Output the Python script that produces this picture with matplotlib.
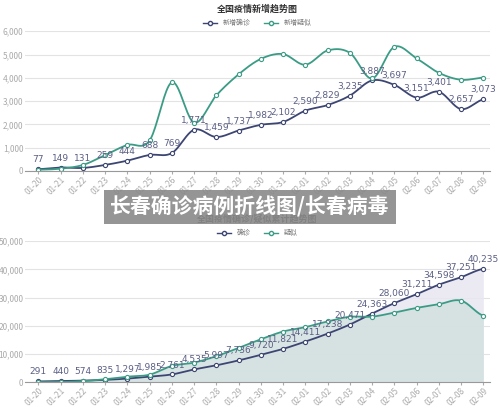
import matplotlib
matplotlib.use("Agg")
import matplotlib.pyplot as plt
import numpy as np

plt.rcParams['font.family'] = ['Noto Sans CJK SC', 'DejaVu Sans']

dates = ["01-20","01-21","01-22","01-23","01-24","01-25","01-26","01-27","01-28","01-29","01-30",
         "01-31","02-01","02-02","02-03","02-04","02-05","02-06","02-07","02-08","02-09"]
new_confirmed = [77,149,131,259,444,688,769,1771,1459,1737,1982,2102,2590,2829,3235,3887,3697,3151,3401,2657,3073]
new_suspected = [54,100,257,680,1118,1309,3806,2077,3248,4148,4812,5019,4562,5173,5072,3971,5328,4833,4214,3916,4008]
cum_confirmed = [291,440,574,835,1297,1985,2761,4535,5997,7736,9720,11821,14411,17238,20471,24363,28060,31211,34598,37251,40235]
cum_suspected = [54,37,393,1072,1965,2684,5794,6973,9239,12167,15238,17988,19544,21558,23214,23260,24702,26359,27657,28942,23589]

C1 = '#3d4573'
C2 = '#3b9c86'

def smooth(y, n=20):
    y = np.asarray(y, float)
    p = np.concatenate([[y[0]], y, [y[-1]]])
    xs, ys = [], []
    for i in range(len(y) - 1):
        p0, p1, p2, p3 = p[i], p[i+1], p[i+2], p[i+3]
        t = np.linspace(0, 1, n, endpoint=False)
        ys.append(0.5*((2*p1) + (-p0+p2)*t + (2*p0-5*p1+4*p2-p3)*t**2 + (-p0+3*p1-3*p2+p3)*t**3))
        xs.append(i + t)
    xs.append([len(y)-1]); ys.append([y[-1]])
    return np.concatenate(xs), np.concatenate(ys)

fig = plt.figure(figsize=(5, 4.11), dpi=100)

def setup(ax, ymax, step, title):
    ax.set_xlim(-0.6, 20.3)
    ax.set_ylim(0, ymax)
    ax.set_yticks(np.arange(0, ymax+1, step))
    ax.set_yticklabels([f"{v:,}" for v in np.arange(0, ymax+1, step)])
    ax.set_xticks(range(len(dates)))
    ax.set_xticklabels(dates, rotation=45, ha='right', rotation_mode='anchor')
    ax.tick_params(colors='#aaaaaa', labelsize=6, length=2, pad=1)
    ax.tick_params(axis='y', length=0)
    for s in ['top', 'right', 'left']:
        ax.spines[s].set_visible(False)
    ax.spines['bottom'].set_color('#999999')
    ax.grid(axis='y', color='#e3e3e3', lw=0.8)
    ax.set_axisbelow(True)
    ax.set_title(title, fontsize=6.5, fontweight='bold', color='#333333', pad=14)

x = np.arange(len(dates))
h1 = [plt.Line2D([], [], color=C1, marker='o', mfc='white', ms=3, lw=1),
      plt.Line2D([], [], color=C2, marker='o', mfc='white', ms=3, lw=1)]

ax1 = fig.add_axes([0.05, 0.584, 0.93, 0.34])
for y, c in [(new_confirmed, C1), (new_suspected, C2)]:
    sx, sy = smooth(y)
    ax1.plot(sx, sy, color=c, lw=1.3)
    ax1.plot(x, y, 'o', ms=3, mfc='white', mec=c, mew=0.8)
setup(ax1, 6000, 1000, '全国疫情新增趋势图')
ax1.legend(h1, ['新增确诊', '新增疑似'], loc='lower center', bbox_to_anchor=(0.5, 1.0), ncol=2,
           frameon=False, fontsize=5, labelcolor='#777777', borderaxespad=0.2)
for i, v in enumerate(new_confirmed):
    ax1.annotate(f"{v:,}", (i, v), xytext=(0, 5), textcoords='offset points', ha='center',
                 fontsize=6.5, color='#5a5f85', family='DejaVu Sans')

ax2 = fig.add_axes([0.05, 0.07, 0.93, 0.343])
for y, c, fc in [(cum_confirmed, C1, '#e8e6f0'), (cum_suspected, C2, '#d3e0e0')]:
    sx, sy = smooth(y)
    ax2.fill_between(sx, 0, sy, color=fc, alpha=0.85, lw=0)
for y, c in [(cum_confirmed, C1), (cum_suspected, C2)]:
    sx, sy = smooth(y)
    ax2.plot(sx, sy, color=c, lw=1.3)
    ax2.plot(x, y, 'o', ms=3, mfc='white', mec=c, mew=0.8)
setup(ax2, 50000, 10000, '全国疫情确诊/疑似累计趋势图')
ax2.legend(h1, ['确诊', '疑似'], loc='lower center', bbox_to_anchor=(0.5, 1.0), ncol=2,
           frameon=False, fontsize=5, labelcolor='#777777', borderaxespad=0.2)
for i, v in enumerate(cum_confirmed):
    ax2.annotate(f"{v:,}", (i, v), xytext=(0, 5), textcoords='offset points', ha='center',
                 fontsize=6.5, color='#5a5f85', family='DejaVu Sans')

fig.text(0.5, 0.497, '长春确诊病例折线图/长春病毒', ha='center', va='center', fontsize=15,
         fontweight='bold', color='white',
         bbox=dict(boxstyle='square,pad=0.3', fc='#8a8a8a', ec='none', alpha=0.9))

fig.savefig('out.png', dpi=100)
